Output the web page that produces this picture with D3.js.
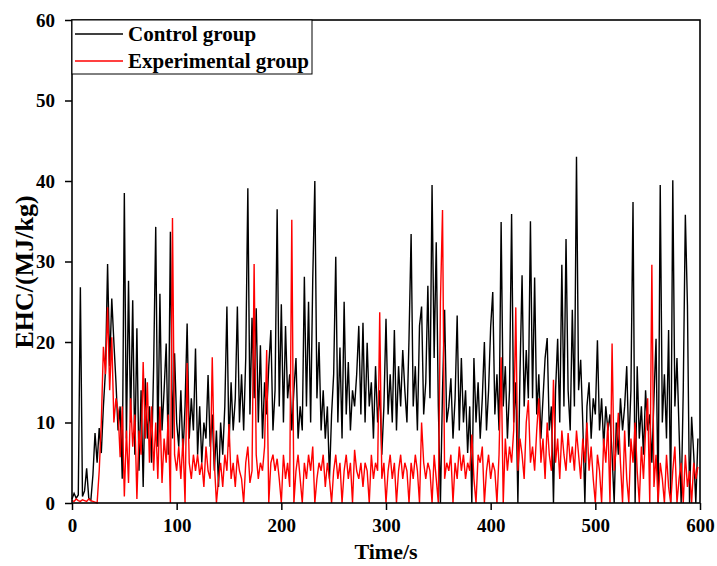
<!DOCTYPE html>
<html>
<head>
<meta charset="utf-8">
<script src="https://cdn.jsdelivr.net/npm/d3@7"></script>
<style>
  body { margin: 0; background: #fff; }
  text { font-family: "Liberation Serif", "Times New Roman", serif; font-weight: bold; }
</style>
</head>
<body>
<svg width="717" height="566"></svg>
<script>
// sample times (s), one reading every 2 s
const times = d3.range(0, 600, 2);

// EHC readings, MJ/kg
const control = [
  0.5, 1.2, 0.6, 1.0, 26.8, 0.8, 1.5, 4.3, 0.6, 0.3,
  3.5, 8.7, 5.0, 9.3, 6.2, 12.0, 16.5, 29.7, 17.0, 25.4,
  20.0, 15.0, 9.0, 12.0, 3.0, 38.5, 8.0, 27.6, 10.0, 25.2,
  6.0, 21.7, 4.0, 14.0, 2.0, 15.5, 8.0, 12.0, 5.0, 17.0,
  34.3, 7.0, 26.0, 9.0, 14.0, 19.8, 6.0, 33.7, 8.0, 18.6,
  10.0, 7.0, 14.0, 6.0, 12.0, 22.3, 8.0, 13.0, 9.0, 19.2,
  6.0, 12.0, 5.0, 10.0, 8.0, 15.9, 7.0, 11.0, 4.0, 9.0,
  2.0, 10.0, 6.0, 12.0, 24.4, 7.0, 15.0, 9.0, 13.0, 24.4,
  10.0, 16.0, 9.0, 18.0, 39.1, 11.0, 23.0, 13.0, 24.2, 10.0,
  19.6, 8.0, 15.0, 11.0, 17.0, 21.5, 9.0, 14.0, 36.5, 12.0,
  24.7, 10.0, 22.0, 13.0, 16.0, 9.0, 14.0, 18.0, 8.0, 12.0,
  9.0, 28.1, 12.0, 25.0, 10.0, 27.7, 40.0, 13.0, 20.0, 9.0,
  14.0, 8.0, 12.0, 3.0, 11.0, 16.0, 30.6, 10.0, 19.3, 8.0,
  25.0, 11.0, 17.5, 9.0, 14.0, 12.0, 16.0, 22.0, 11.0, 22.4,
  10.0, 19.9, 12.0, 15.0, 8.0, 17.0, 10.0, 14.0, 6.0, 12.0,
  22.9, 11.0, 16.0, 10.0, 21.5, 9.0, 17.0, 12.0, 19.0, 14.0,
  10.0, 20.5, 33.4, 12.0, 17.0, 9.0, 22.0, 24.4, 11.0, 15.0,
  27.0, 13.0, 39.5, 18.0, 32.4, 12.0, 0.0, 14.0, 24.0, 10.0,
  12.0, 15.5, 8.0, 13.0, 23.3, 9.0, 18.0, 10.0, 14.0, 6.2,
  12.0, 0.0, 18.0, 10.0, 15.0, 8.0, 13.0, 20.0, 9.0, 14.0,
  21.9, 26.2, 11.0, 16.0, 9.0, 34.9, 12.0, 17.0, 8.0, 14.0,
  35.9, 10.0, 15.0, 0.0, 16.0, 28.3, 12.0, 19.0, 13.0, 35.0,
  13.0, 28.0, 11.0, 16.0, 8.0, 13.0, 18.0, 20.5, 9.0, 12.0,
  0.0, 14.0, 20.4, 10.0, 29.6, 12.0, 32.8, 14.0, 9.0, 24.0,
  12.0, 43.0, 14.0, 17.8, 10.0, 0.0, 12.0, 15.0, 8.0, 13.0,
  11.0, 20.2, 9.0, 13.0, 7.0, 12.0, 9.0, 11.0, 6.0, 0.0,
  10.0, 6.0, 13.0, 9.0, 12.0, 17.0, 7.0, 14.0, 37.4, 0.0,
  17.0, 8.0, 12.0, 6.0, 14.0, 9.0, 11.0, 5.0, 13.0, 20.4,
  0.0, 39.5, 10.0, 16.0, 8.0, 21.5, 0.0, 40.1, 12.0, 18.0,
  9.0, 0.0, 14.0, 35.8, 24.6, 0.0, 10.7, 6.0, 0.0, 8.0
];

const experimental = [
  0.3, 0.2, 0.5, 0.3, 0.2, 0.4, 0.3, 0.2, 0.5, 0.3,
  0.2, 0.1, 0.0, 4.0, 10.0, 19.4, 16.0, 24.3, 14.0, 20.6,
  10.0, 13.0, 11.5, 5.7, 12.0, 0.8, 9.0, 2.5, 13.0, 7.0,
  11.0, 0.5, 9.0, 6.0, 17.5, 8.0, 15.0, 5.0, 12.0, 4.0,
  10.0, 3.0, 12.0, 2.5, 8.0, 5.0, 11.0, 0.0, 35.4, 6.0,
  4.0, 7.0, 3.0, 8.0, 0.0, 17.4, 5.0, 3.0, 6.0, 4.0,
  6.0, 3.5, 5.0, 2.0, 7.0, 4.0, 3.0, 18.1, 5.0, 0.0,
  3.0, 5.0, 2.0, 6.0, 4.0, 9.8, 3.0, 5.0, 2.0, 6.0,
  4.0, 3.0, 0.0, 5.0, 7.0, 2.5, 4.0, 29.7, 6.0, 3.0,
  5.0, 4.0, 7.0, 19.0, 0.0, 5.0, 6.0, 4.0, 5.5, 3.0,
  0.0, 6.0, 3.0, 5.0, 2.0, 35.2, 0.0, 4.0, 6.0, 3.0,
  0.0, 5.0, 3.0, 6.0, 4.0, 7.0, 0.0, 3.0, 5.0, 4.0,
  6.0, 2.0, 5.0, 3.0, 0.0, 4.0, 6.0, 3.0, 5.0, 0.0,
  4.0, 6.0, 3.0, 5.0, 0.0, 6.6, 4.0, 3.0, 5.0, 2.0,
  5.0, 4.0, 0.0, 6.0, 3.0, 5.0, 4.0, 23.7, 3.0, 5.0,
  0.0, 4.0, 6.0, 3.0, 5.0, 0.0, 4.0, 6.0, 3.0, 5.0,
  4.0, 0.0, 5.0, 3.0, 6.0, 4.0, 0.0, 10.0, 5.0, 3.0,
  5.0, 4.0, 0.0, 6.0, 3.0, 0.0, 25.0, 36.4, 3.0, 5.0,
  4.0, 6.0, 0.0, 5.0, 3.0, 7.0, 4.0, 6.0, 3.0, 5.0,
  4.0, 8.5, 3.0, 0.0, 6.0, 5.0, 7.0, 0.0, 4.0, 6.0,
  3.0, 5.0, 4.0, 0.0, 6.0, 18.1, 0.0, 8.0, 4.0, 7.0,
  5.0, 9.0, 24.3, 4.0, 8.0, 6.0, 3.0, 10.0, 12.8, 5.0,
  7.0, 4.0, 9.0, 13.0, 5.0, 8.0, 3.0, 10.0, 6.0, 4.0,
  15.3, 5.0, 8.0, 3.0, 9.0, 6.0, 4.0, 8.7, 5.0, 7.0,
  4.0, 9.0, 6.0, 3.0, 8.0, 5.0, 10.0, 4.0, 7.0, 3.0,
  0.0, 6.0, 4.0, 0.0, 8.0, 5.0, 10.0, 0.0, 19.8, 4.0,
  7.0, 11.2, 5.0, 0.0, 9.0, 3.0, 0.0, 8.0, 5.0, 10.0,
  4.0, 0.0, 7.0, 3.0, 9.0, 13.0, 0.0, 29.6, 2.0, 6.0,
  0.0, 5.0, 3.0, 0.0, 6.0, 2.0, 0.0, 4.0, 7.0, 0.0,
  3.0, 5.0, 0.0, 6.0, 2.0, 4.0, 0.0, 5.0, 3.0, 4.5
];

const xTicks = [0, 100, 200, 300, 400, 500, 600];
const yTicks = [0, 10, 20, 30, 40, 50, 60];

const seriesNames = ["Control group", "Experimental group"];
const seriesColors = ["#000000", "#ff0000"];

const svg = d3.select("svg");
const plotLeft = 72, plotRight = 700, plotTop = 20, plotBottom = 503;

svg.append("rect")
  .attr("width", 717).attr("height", 566).attr("fill", "#fff");

const x = d3.scaleLinear().domain([0, 600]).range([plotLeft, plotRight]);
const y = d3.scaleLinear().domain([0, 60]).range([plotBottom, plotTop]);

const line = d3.line()
  .x(d => x(d[0]))
  .y(d => y(d[1]));

[control, experimental].forEach((vals, i) => {
  svg.append("path")
    .datum(times.map((t, j) => [t, vals[j]]))
    .attr("fill", "none")
    .attr("stroke", seriesColors[i])
    .attr("stroke-width", 1.4)
    .attr("d", line);
});

// axes
const xAxis = svg.append("g")
  .attr("transform", `translate(0,${plotBottom})`)
  .call(d3.axisBottom(x).tickValues(xTicks).tickSize(7).tickPadding(9));
const yAxis = svg.append("g")
  .attr("transform", `translate(${plotLeft},0)`)
  .call(d3.axisLeft(y).tickValues(yTicks).tickSize(7).tickPadding(10));

[xAxis, yAxis].forEach(g => {
  g.select(".domain").remove();
  g.selectAll(".tick line").attr("stroke", "#000").attr("stroke-width", 1.5);
  g.selectAll(".tick text")
    .attr("fill", "#000")
    .style("font-size", "19px")
    .style("font-family", "'Liberation Serif', serif")
    .style("font-weight", "bold");
});

// frame
svg.append("rect")
  .attr("x", plotLeft).attr("y", plotTop)
  .attr("width", plotRight - plotLeft).attr("height", plotBottom - plotTop)
  .attr("fill", "none")
  .attr("stroke", "#000")
  .attr("stroke-width", 1.6);

// axis titles
svg.append("text")
  .attr("x", 386).attr("y", 559)
  .attr("text-anchor", "middle")
  .style("font-size", "22px")
  .text("Time/s");

svg.append("text")
  .attr("transform", "translate(33,272) rotate(-90)")
  .attr("text-anchor", "middle")
  .style("font-size", "26px")
  .text("EHC/(MJ/kg)");

// legend
const legend = svg.append("g");
legend.append("rect")
  .attr("x", plotLeft).attr("y", plotTop)
  .attr("width", 240).attr("height", 54)
  .attr("fill", "#fff")
  .attr("stroke", "#000")
  .attr("stroke-width", 1);

seriesNames.forEach((name, i) => {
  const ly = 34 + i * 27;
  legend.append("line")
    .attr("x1", 75).attr("x2", 123)
    .attr("y1", ly).attr("y2", ly)
    .attr("stroke", seriesColors[i])
    .attr("stroke-width", 1.3);
  legend.append("text")
    .attr("x", 128).attr("y", ly + 7)
    .style("font-size", "21px")
    .text(name);
});
</script>
</body>
</html>
